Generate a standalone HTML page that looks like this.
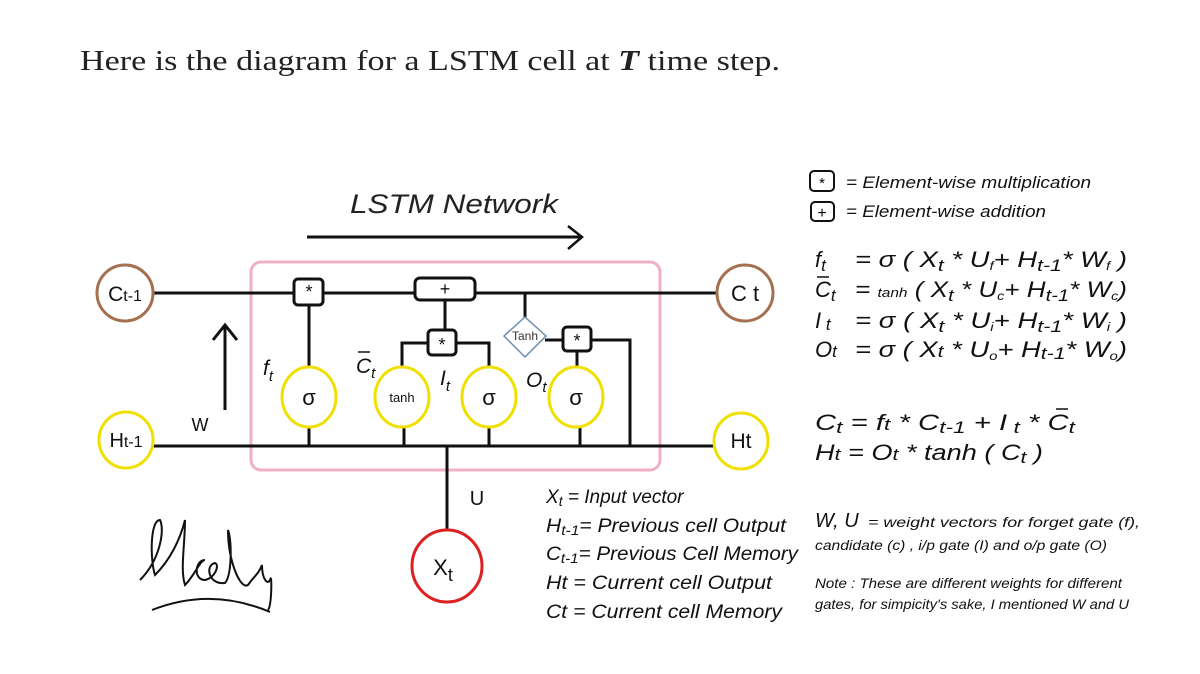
<!DOCTYPE html>
<html><head><meta charset="utf-8"><style>
html,body{margin:0;padding:0;background:#fff;width:1200px;height:674px;overflow:hidden}
svg{display:block}
.s{font-family:"Liberation Sans",sans-serif}
.i{font-family:"Liberation Sans",sans-serif;font-style:italic}
</style></head><body>
<svg width="1200" height="674" viewBox="0 0 1200 674" xmlns="http://www.w3.org/2000/svg">
<text x="80" y="70" font-family="Liberation Serif,serif" font-size="29" fill="#222" textLength="700" lengthAdjust="spacingAndGlyphs">Here is the diagram for a LSTM cell at <tspan font-style="italic" font-weight="bold">T</tspan> time step.</text>

<text x="350" y="213" class="i" font-size="27" fill="#222" textLength="208" lengthAdjust="spacingAndGlyphs">LSTM Network</text>
<line x1="307" y1="237" x2="582" y2="237" stroke="#111" stroke-width="3"/>
<polyline points="568,226 582,237 568,249" fill="none" stroke="#111" stroke-width="2.5"/>

<rect x="251" y="262" width="409" height="208" rx="10" fill="none" stroke="#f0b0c4" stroke-width="3"/>

<g stroke="#111" stroke-width="3" fill="none">
<line x1="153" y1="293" x2="717" y2="293"/>
<line x1="153" y1="446" x2="632" y2="446"/>
<polyline points="591,340 630,340 630,446 713,446"/>
<line x1="447" y1="446" x2="447" y2="532"/>
<line x1="309" y1="293" x2="309" y2="367"/>
<line x1="445" y1="293" x2="445" y2="343"/>
<polyline points="402,367 402,343 489,343 489,367"/>
<line x1="525" y1="293" x2="525" y2="318"/>
<line x1="545" y1="340" x2="577" y2="340"/>
<line x1="577" y1="340" x2="577" y2="367"/>
<line x1="309" y1="427" x2="309" y2="446"/>
<line x1="404" y1="427" x2="404" y2="446"/>
<line x1="489" y1="427" x2="489" y2="446"/>
<line x1="580" y1="427" x2="580" y2="446"/>
<line x1="225" y1="410" x2="225" y2="327"/>
<polyline points="213,340 225,325 237,340"/>
</g>

<g fill="#fff" stroke="#111" stroke-width="3">
<rect x="294" y="279" width="29" height="26" rx="4"/>
<rect x="415" y="278" width="60" height="22" rx="5"/>
<rect x="428" y="330" width="28" height="25" rx="4"/>
<rect x="563" y="327" width="28" height="24" rx="4"/>
</g>
<polygon points="525,317 546,336 525,357 504,336" fill="#fff" stroke="#6a8bb0" stroke-width="1.5"/>
<text x="525" y="340" class="s" font-size="12" fill="#333" text-anchor="middle">Tanh</text>
<g class="s" font-size="18" text-anchor="middle" fill="#111">
<text x="309" y="298">*</text><text x="445" y="295">+</text><text x="442" y="351">*</text><text x="577" y="347">*</text>
</g>

<g stroke-width="3" fill="#fff">
<circle cx="125" cy="293" r="28" stroke="#a5704f"/>
<circle cx="745" cy="293" r="28" stroke="#a5704f"/>
<ellipse cx="126" cy="440" rx="27" ry="28" stroke="#f0e000"/>
<ellipse cx="741" cy="441" rx="27" ry="28" stroke="#f0e000"/>
<ellipse cx="447" cy="566" rx="35" ry="36" stroke="#dd2020"/>
<ellipse cx="309" cy="397" rx="27" ry="30" stroke="#f0e000"/>
<ellipse cx="402" cy="397" rx="27" ry="30" stroke="#f0e000"/>
<ellipse cx="489" cy="397" rx="27" ry="30" stroke="#f0e000"/>
<ellipse cx="576" cy="397" rx="27" ry="30" stroke="#f0e000"/>
</g>
<g class="s" fill="#111" text-anchor="middle">
<text x="309" y="405" font-size="22">σ</text>
<text x="402" y="402" font-size="13">tanh</text>
<text x="489" y="405" font-size="22">σ</text>
<text x="576" y="405" font-size="22">σ</text>
<text x="125" y="301" font-size="21">C<tspan font-size="16">t-1</tspan></text>
<text x="745" y="301" font-size="22">C t</text>
<text x="126" y="447" font-size="20">H<tspan font-size="16">t-1</tspan></text>
<text x="741" y="448" font-size="21">Ht</text>
<text x="443" y="575" font-size="22">X<tspan font-size="18" dy="6">t</tspan></text>
<text x="200" y="431" font-size="18">W</text>
<text x="477" y="505" font-size="20">U</text>
</g>
<g class="i" fill="#111" font-size="21">
<text x="263" y="375">f<tspan font-size="15" dy="6">t</tspan></text>
<text x="356" y="373">C<tspan font-size="15" dy="5">t</tspan></text>
<line x1="358" y1="352" x2="370" y2="352" stroke="#111" stroke-width="1.5"/>
<text x="440" y="385">I<tspan font-size="15" dy="6">t</tspan></text>
<text x="526" y="387">O<tspan font-size="15" dy="5">t</tspan></text>
</g>

<g class="i" fill="#111" font-size="19">
<text x="546" y="503">X<tspan font-size="14" dy="3">t</tspan><tspan dy="-3">  = Input vector</tspan></text>
<text x="546" y="532" textLength="240" lengthAdjust="spacingAndGlyphs">H<tspan font-size="14" dy="3">t-1</tspan><tspan dy="-3">= Previous cell Output</tspan></text>
<text x="546" y="560" textLength="252" lengthAdjust="spacingAndGlyphs">C<tspan font-size="14" dy="3">t-1</tspan><tspan dy="-3">= Previous Cell Memory</tspan></text>
<text x="546" y="589" textLength="226" lengthAdjust="spacingAndGlyphs">Ht  = Current cell Output</text>
<text x="546" y="618" textLength="236" lengthAdjust="spacingAndGlyphs">Ct  = Current cell Memory</text>
</g>

<path d="M140 580 C160 560 165 530 160 520 C150 520 150 560 155 575 C170 560 180 540 185 520 C185 545 180 570 185 585 C195 575 200 560 205 560 C195 560 193 580 205 580 C215 578 220 565 215 563 C205 565 208 585 225 583 C232 575 232 540 228 530 C228 560 240 590 248 585 C255 575 258 575 262 565 C262 580 268 585 270 580 C272 570 272 605 268 610 M152 610 C190 595 230 595 270 612" fill="none" stroke="#111" stroke-width="2"/>

<rect x="810" y="171" width="24" height="20" rx="4" fill="none" stroke="#111" stroke-width="2"/>
<text x="822" y="188" class="s" font-size="15" text-anchor="middle">*</text>
<rect x="811" y="202" width="23" height="19" rx="4" fill="none" stroke="#111" stroke-width="2"/>
<text x="822" y="218" class="s" font-size="16" text-anchor="middle">+</text>
<g class="i" font-size="17" fill="#111">
<text x="846" y="188" textLength="245" lengthAdjust="spacingAndGlyphs">= Element-wise multiplication</text>
<text x="846" y="217" textLength="200" lengthAdjust="spacingAndGlyphs">= Element-wise addition</text>
</g>

<g class="i" font-size="22" fill="#111">
<text x="815" y="267">f<tspan font-size="17" dy="4">t</tspan></text>
<text x="855" y="267" textLength="272" lengthAdjust="spacingAndGlyphs">= σ ( X<tspan font-size="17" dy="4">t</tspan><tspan dy="-4"> *  U</tspan><tspan font-size="12" dy="3">f</tspan><tspan dy="-3">+ H</tspan><tspan font-size="17" dy="4">t-1</tspan><tspan dy="-4">*  W</tspan><tspan font-size="12" dy="3">f</tspan><tspan dy="-3"> )</tspan></text>
<text x="815" y="297">C<tspan font-size="17" dy="4">t</tspan></text>
<line x1="817" y1="277" x2="829" y2="277" stroke="#111" stroke-width="1.5"/>
<text x="855" y="297" textLength="272" lengthAdjust="spacingAndGlyphs">= <tspan font-size="13">tanh</tspan> ( X<tspan font-size="17" dy="4">t</tspan><tspan dy="-4"> *  U</tspan><tspan font-size="12" dy="3">c</tspan><tspan dy="-3">+ H</tspan><tspan font-size="17" dy="4">t-1</tspan><tspan dy="-4">*  W</tspan><tspan font-size="12" dy="3">c</tspan><tspan dy="-3">)</tspan></text>
<text x="815" y="328">I<tspan font-size="17" dy="2"> t</tspan></text>
<text x="855" y="328" textLength="272" lengthAdjust="spacingAndGlyphs">= σ ( X<tspan font-size="17" dy="4">t</tspan><tspan dy="-4"> *  U</tspan><tspan font-size="12" dy="3">i</tspan><tspan dy="-3">+ H</tspan><tspan font-size="17" dy="4">t-1</tspan><tspan dy="-4">*  W</tspan><tspan font-size="12" dy="3">i</tspan><tspan dy="-3"> )</tspan></text>
<text x="815" y="357">O<tspan font-size="17">t</tspan></text>
<text x="855" y="357" textLength="272" lengthAdjust="spacingAndGlyphs">= σ ( X<tspan font-size="17">t</tspan><tspan> *  U</tspan><tspan font-size="12" dy="3">o</tspan><tspan dy="-3">+ H</tspan><tspan font-size="17" dy="2">t-1</tspan><tspan dy="-2">*  W</tspan><tspan font-size="12" dy="3">o</tspan><tspan dy="-3">)</tspan></text>
<text x="815" y="430" textLength="260" lengthAdjust="spacingAndGlyphs">C<tspan font-size="17" dy="3">t</tspan><tspan dy="-3">  =  f</tspan><tspan font-size="17">t</tspan><tspan> * C</tspan><tspan font-size="17" dy="3">t-1</tspan><tspan dy="-3"> +  I</tspan><tspan font-size="17" dy="3"> t</tspan><tspan dy="-3"> *  C</tspan><tspan font-size="17" dy="3">t</tspan></text>
<line x1="1056" y1="409" x2="1068" y2="409" stroke="#111" stroke-width="1.5"/>
<text x="815" y="460" textLength="228" lengthAdjust="spacingAndGlyphs">H<tspan font-size="17">t</tspan><tspan>  =  O</tspan><tspan font-size="17">t</tspan><tspan> *  tanh ( C</tspan><tspan font-size="17" dy="3">t</tspan><tspan dy="-3"> )</tspan></text>
</g>

<g class="i" fill="#111">
<text x="815" y="527" font-size="20">W, U</text>
<text x="868" y="527" font-size="14" textLength="272" lengthAdjust="spacingAndGlyphs">= weight vectors for forget gate (f),</text>
<text x="815" y="550" font-size="14" textLength="292" lengthAdjust="spacingAndGlyphs">candidate (c) , i/p gate (I) and o/p gate (O)</text>
<text x="815" y="588" font-size="14" textLength="307" lengthAdjust="spacingAndGlyphs">Note : These are different weights for different</text>
<text x="815" y="609" font-size="14" textLength="314" lengthAdjust="spacingAndGlyphs">gates, for simpicity's sake, I mentioned W and U</text>
</g>
</svg>
</body></html>
